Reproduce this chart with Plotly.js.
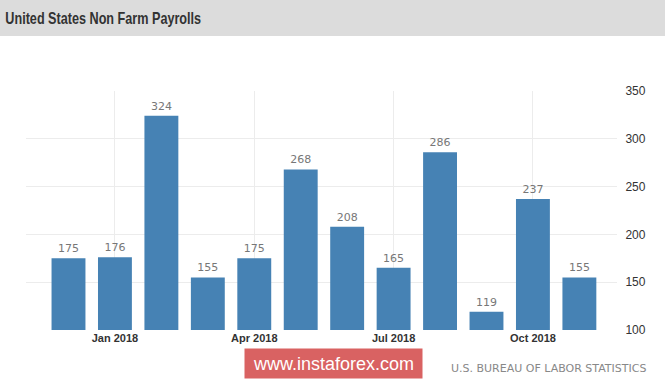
<!DOCTYPE html>
<html>
<head>
<meta charset="utf-8">
<script src="https://cdn.plot.ly/plotly-3.0.1.min.js"></script>
<style>html,body{margin:0;padding:0;background:#fff;}#chart{width:665px;height:380px;}</style>
</head>
<body>
<div id="chart"></div>
<script>
const months = ["Dec 2017","Jan 2018","Feb 2018","Mar 2018","Apr 2018","May 2018","Jun 2018","Jul 2018","Aug 2018","Sep 2018","Oct 2018","Nov 2018"];
const payrolls = [175,176,324,155,175,268,208,165,286,119,237,155];
const tickMonths = ["Jan 2018","Apr 2018","Jul 2018","Oct 2018"];
const yTicks = [100,150,200,250,300,350];

const trace = {
  type: 'bar',
  x: months,
  y: payrolls,
  marker: {color: '#4682B4'},
  text: payrolls.map(String),
  textposition: 'outside',
  textfont: {family: 'DejaVu Sans', size: 11, color: '#777'},
  cliponaxis: false,
  hoverinfo: 'none'
};

const layout = {
  width: 665, height: 380,
  margin: {l: 26, r: 48, t: 91, b: 50},
  paper_bgcolor: '#fff',
  plot_bgcolor: '#fff',
  bargap: 0.27,
  showlegend: false,
  title: {
    text: '<b>United States Non Farm Payrolls</b>',
    font: {family: 'Liberation Sans, Arial', size: 16, color: '#333'},
    x: 0.008, xanchor: 'left', xref: 'container',
    y: 1 - 18/380, yanchor: 'middle', yref: 'container'
  },
  xaxis: {
    type: 'category',
    range: [-0.915, 11.81],
    tickmode: 'array',
    tickvals: tickMonths,
    ticktext: tickMonths,
    showgrid: true,
    gridcolor: '#ececec',
    gridwidth: 1,
    zeroline: false,
    showline: false,
    ticks: '',
    tickfont: {family: 'Liberation Sans, Arial', size: 11, color: '#333', weight: 'bold'},
    fixedrange: true
  },
  yaxis: {
    side: 'right',
    range: [100, 350],
    tickmode: 'array',
    tickvals: yTicks,
    showgrid: true,
    gridcolor: '#ececec',
    gridwidth: 1,
    zeroline: false,
    showline: false,
    ticks: 'outside',
    ticklen: 5,
    tickcolor: 'rgba(0,0,0,0)',
    tickfont: {family: 'Liberation Sans, Arial', size: 12, color: '#333'},
    fixedrange: true
  },
  shapes: [{
    type: 'rect', xref: 'paper', yref: 'paper', layer: 'below',
    x0: -26/591, x1: 639/591,
    y0: (330-36)/239, y1: 330/239,
    fillcolor: '#dcdcdc', line: {width: 0}
  }],
  annotations: [
    {
      text: 'www.instaforex.com',
      xref: 'paper', yref: 'paper',
      x: (333-26)/591, y: (330-363)/239,
      xanchor: 'center', yanchor: 'middle',
      showarrow: false,
      font: {family: 'Liberation Sans, Arial', size: 18, color: '#fff'},
      bgcolor: '#d96262',
      borderpad: 5,
      width: 167, height: 19
    },
    {
      text: 'U.S. BUREAU OF LABOR STATISTICS',
      xref: 'paper', yref: 'paper',
      x: (548-26)/591, y: (330-368)/239,
      xanchor: 'center', yanchor: 'middle',
      showarrow: false,
      font: {family: 'DejaVu Sans', size: 11, color: '#888'}
    }
  ]
};

Plotly.newPlot('chart', [trace], layout, {staticPlot: true, displayModeBar: false}).then(function (gd) {
  // narrow the title glyphs horizontally to match the condensed bold face of the original
  const t = gd.querySelector('.gtitle');
  if (t) {
    const x0 = parseFloat(t.getAttribute('x')) || 5;
    t.setAttribute('transform', 'translate(' + x0 + ',0) scale(0.79,1) translate(' + (-x0) + ',0)');
  }
});
</script>
</body>
</html>
